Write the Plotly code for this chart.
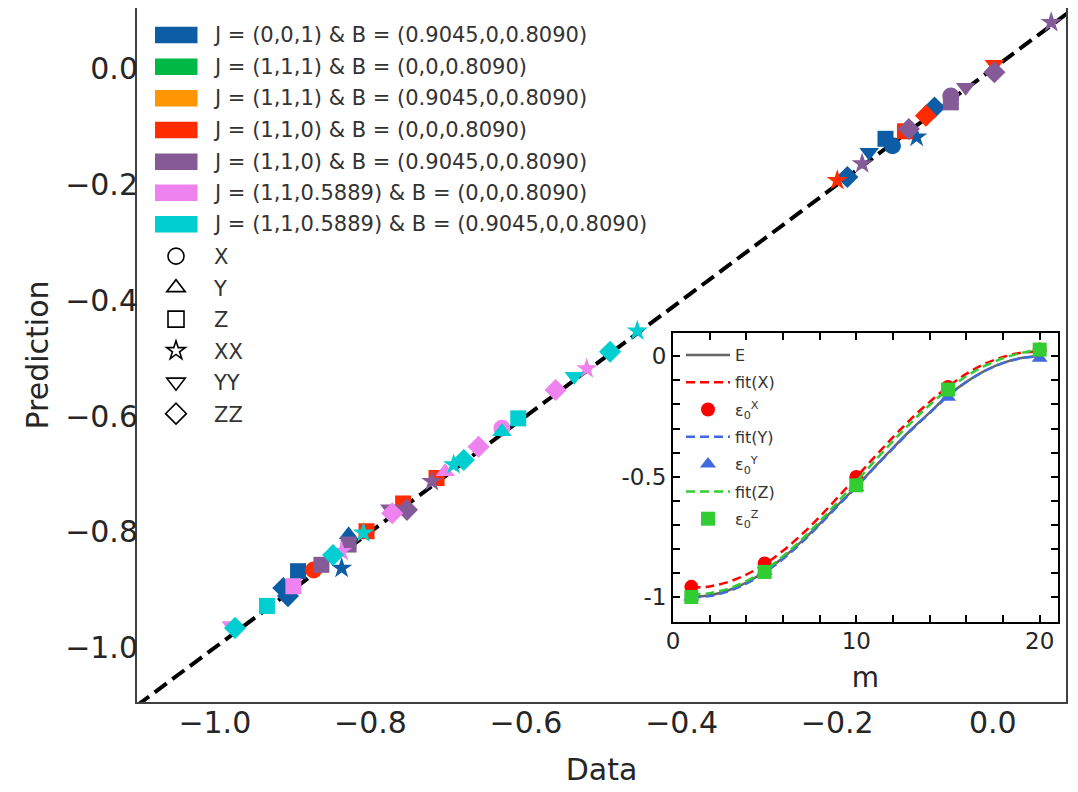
import plotly.graph_objects as go

# ---------------- main panel data ----------------
group_names = [
    "J = (0,0,1) & B = (0.9045,0,0.8090)",
    "J = (1,1,1) & B = (0,0,0.8090)",
    "J = (1,1,1) & B = (0.9045,0,0.8090)",
    "J = (1,1,0) & B = (0,0,0.8090)",
    "J = (1,1,0) & B = (0.9045,0,0.8090)",
    "J = (1,1,0.5889) & B = (0,0,0.8090)",
    "J = (1,1,0.5889) & B = (0.9045,0,0.8090)",
]
group_colors = ["#0C5DA5", "#00B945", "#FF9500", "#FF2C00", "#845B97", "#EE82EE", "#00CED1"]

component_names = ["X", "Y", "Z", "XX", "YY", "ZZ"]
component_symbols = ["circle", "triangle-up", "square", "star", "triangle-down", "diamond"]

# group 0 : J=(0,0,1), B=(0.9045,0,0.8090)
g0_data = [-0.129, -0.828, -0.138, -0.893, -0.098, -0.837, -0.159, -0.075, -0.187, -0.912, -0.906]
g0_pred = [-0.133, -0.805, -0.121, -0.868, -0.118, -0.863, -0.144, -0.067, -0.187, -0.897, -0.911]
g0_comp = ["X", "Y", "Z", "Z", "XX", "XX", "YY", "ZZ", "ZZ", "ZZ", "ZZ"]
# group 1 : J=(1,1,1), B=(0,0,0.8090)  (hidden under other markers)
g1_data = []
g1_pred = []
g1_comp = []
# group 2 : J=(1,1,1), B=(0.9045,0,0.8090)  (hidden under other markers)
g2_data = []
g2_pred = []
g2_comp = []
# group 3 : J=(1,1,0), B=(0,0,0.8090)
g3_data = [0.002, -0.086, -0.113, -0.200, -0.715, -0.758, -0.805, -0.873]
g3_pred = [0.008, -0.081, -0.108, -0.193, -0.707, -0.751, -0.799, -0.866]
g3_comp = ["YY", "ZZ", "Z", "XX", "Z", "Z", "Z", "X"]
# group 4 : J=(1,1,0), B=(0.9045,0,0.8090)
g4_data = [0.075, 0.002, -0.035, -0.054, -0.054, -0.108, -0.168, -0.721, -0.753, -0.775, -0.828, -0.863]
g4_pred = [0.080, -0.006, -0.032, -0.047, -0.058, -0.104, -0.164, -0.713, -0.762, -0.760, -0.822, -0.857]
g4_comp = ["XX", "ZZ", "YY", "X", "Z", "ZZ", "XX", "XX", "ZZ", "YY", "Z", "Z"]
# group 5 : J=(1,1,0.5889), B=(0,0,0.8090)
g5_data = [-0.522, -0.562, -0.631, -0.661, -0.704, -0.772, -0.837, -0.899, -0.979]
g5_pred = [-0.518, -0.555, -0.621, -0.653, -0.696, -0.768, -0.834, -0.894, -0.962]
g5_comp = ["XX", "ZZ", "X", "ZZ", "Y", "ZZ", "XX", "Z", "YY"]
# group 6 : J=(1,1,0.5889), B=(0.9045,0,0.8090)
g6_data = [-0.457, -0.492, -0.538, -0.610, -0.631, -0.680, -0.693, -0.809, -0.848, -0.933, -0.974]
g6_pred = [-0.453, -0.489, -0.531, -0.604, -0.627, -0.676, -0.684, -0.802, -0.840, -0.928, -0.966]
g6_comp = ["XX", "ZZ", "YY", "Z", "Y", "ZZ", "XX", "XX", "ZZ", "Z", "ZZ"]

diag = [-1.1, 0.1]
main_ticks = [-1.0, -0.8, -0.6, -0.4, -0.2, 0.0]

# ---------------- inset data ----------------
m_line = [1, 2, 3, 4, 5, 6, 7, 8, 9, 10, 11, 12, 13, 14, 15, 16, 17, 18, 19, 20]
E_vals = [-1.000, -0.993, -0.973, -0.940, -0.894, -0.837, -0.770, -0.696, -0.617, -0.541,
          -0.459, -0.380, -0.304, -0.234, -0.163, -0.106, -0.060, -0.027, -0.007, 0.000]
fitX_vals = [-0.962, -0.956, -0.938, -0.907, -0.864, -0.808, -0.742, -0.667, -0.585, -0.502,
             -0.418, -0.336, -0.259, -0.189, -0.127, -0.073, -0.031, -0.003, 0.015, 0.020]
fitY_vals = [-1.002, -0.996, -0.977, -0.945, -0.899, -0.842, -0.775, -0.700, -0.621, -0.544,
             -0.462, -0.383, -0.306, -0.236, -0.165, -0.107, -0.061, -0.028, -0.008, 0.000]
fitZ_vals = [-0.990, -0.984, -0.966, -0.934, -0.889, -0.831, -0.763, -0.686, -0.604, -0.520,
             -0.435, -0.352, -0.274, -0.202, -0.138, -0.083, -0.040, -0.008, 0.014, 0.028]
m_pts = [1, 5, 10, 15, 20]
epsX = [-0.958, -0.861, -0.501, -0.127, 0.028]
epsY = [-1.000, -0.893, -0.545, -0.170, -0.008]
epsZ = [-1.000, -0.896, -0.536, -0.138, 0.028]
inset_xticks = [0, 2, 4, 6, 8, 10, 12, 14, 16, 18, 20]
inset_xlabels = ["0", "", "", "", "", "10", "", "", "", "", "20"]
inset_yticks = [-1.0, -0.9, -0.8, -0.7, -0.6, -0.5, -0.4, -0.3, -0.2, -0.1, 0.0]
inset_ylabels = ["-1", "", "", "", "", "-0.5", "", "", "", "", "0"]

FONT = "DejaVu Sans"
TXT = "#262626"

sym_of = dict(zip(component_names, component_symbols))
size_of = {"X": 17, "Y": 17, "Z": 16, "XX": 16, "YY": 17, "ZZ": 17}

fig = go.Figure()

fig.add_trace(go.Scatter(x=diag, y=diag, mode="lines",
                         line=dict(color="black", width=4, dash="15px,7px"),
                         showlegend=False, hoverinfo="skip"))

all_groups = [
    (g0_data, g0_pred, g0_comp), (g1_data, g1_pred, g1_comp), (g2_data, g2_pred, g2_comp),
    (g3_data, g3_pred, g3_comp), (g4_data, g4_pred, g4_comp), (g5_data, g5_pred, g5_comp),
    (g6_data, g6_pred, g6_comp),
]
for (gx, gy, gc), col, name in zip(all_groups, group_colors, group_names):
    fig.add_trace(go.Scatter(
        x=gx, y=gy, mode="markers", name=name, showlegend=False,
        marker=dict(color=col, symbol=[sym_of[c] for c in gc], opacity=1,
                    size=[size_of[c] for c in gc], line=dict(width=0)),
    ))

# legend entries for the components (hollow black markers)
for cname, csym in zip(component_names, component_symbols):
    fig.add_trace(go.Scatter(
        x=[None], y=[None], mode="markers", name=cname, legendgroup=cname,
        legend="legend",
        marker=dict(symbol=csym + "-open", color="black", size=16 if csym != "star" else 14,
                    line=dict(width=1.6)),
    ))

# ---------------- inset ----------------
inset_series = [
    ("E", m_line, E_vals, "lines", dict(color="#666666", width=2.5), None),
    ("fit(X)", m_line, fitX_vals, "lines", dict(color="red", width=2.5, dash="9px,5px"), None),
    ("ε<sub>0</sub><sup>X</sup>", m_pts, epsX, "markers", None, dict(color="red", symbol="circle", size=14)),
    ("fit(Y)", m_line, fitY_vals, "lines", dict(color="royalblue", width=2.5, dash="9px,5px"), None),
    ("ε<sub>0</sub><sup>Y</sup>", m_pts, epsY, "markers", None, dict(color="royalblue", symbol="triangle-up", size=14)),
    ("fit(Z)", m_line, fitZ_vals, "lines", dict(color="limegreen", width=2.5, dash="9px,5px"), None),
    ("ε<sub>0</sub><sup>Z</sup>", m_pts, epsZ, "markers", None, dict(color="limegreen", symbol="square", size=14)),
]
for name, xs, ys, mode, ln, mk in inset_series:
    kw = dict(x=xs, y=ys, mode=mode, name=name, xaxis="x2", yaxis="y2",
              legend="legend2", legendgroup="in_" + name)
    if ln is not None:
        kw["line"] = dict(ln, shape="spline")
    if mk is not None:
        kw["marker"] = mk
    fig.add_trace(go.Scatter(**kw))

# ---------------- layout geometry (page pixels; page body has an 8px offset) ----------------
OFF = 8
FIG_W, FIG_H = 1078 - OFF, 792 - OFF
L, R, T, B = 137, 1066, 8, 702
W, H = R - L, B - T
def px_x(p):
    return (p - L) / W
def px_y(p):
    return (B - p) / H

patch_centers = [35, 66.7, 98.3, 130, 161.7, 192.7, 224.3]
shapes = []
annotations = []
for yc, col, name in zip(patch_centers, group_colors, group_names):
    shapes.append(dict(type="rect", xref="paper", yref="paper",
                       x0=px_x(155), x1=px_x(197.5), y0=px_y(yc + 8.3), y1=px_y(yc - 8.3),
                       fillcolor=col, line=dict(width=0)))
    annotations.append(dict(xref="paper", yref="paper", x=px_x(211), y=px_y(yc),
                            xanchor="left", yanchor="middle", showarrow=False, text=name,
                            font=dict(family=FONT, size=21, color="#333333")))

fig.update_layout(
    width=FIG_W, height=FIG_H,
    margin=dict(l=L - OFF, r=FIG_W - (R - OFF), t=T - OFF, b=FIG_H - (B - OFF), autoexpand=False),
    paper_bgcolor="white", plot_bgcolor="white",
    font=dict(family=FONT, color=TXT),
    shapes=shapes, annotations=annotations,
    xaxis=dict(domain=[0, 1], range=[-1.1, 0.094], tickvals=main_ticks, tickformat=".1f",
               showline=True, mirror=True, linecolor="#404040", linewidth=2,
               ticks="", showgrid=False, zeroline=False, automargin=False,
               ticklabelstandoff=-7,
               tickfont=dict(size=30, color=TXT),
               title=dict(text="Data", font=dict(size=30, color=TXT), standoff=20)),
    yaxis=dict(domain=[0, 1], range=[-1.094, 0.105], tickvals=main_ticks, tickformat=".1f",
               showline=True, mirror=True, linecolor="#404040", linewidth=2,
               ticks="", showgrid=False, zeroline=False, automargin=False,
               ticklabelstandoff=-9,
               tickfont=dict(size=30, color=TXT),
               title=dict(text="Prediction", font=dict(size=30, color=TXT), standoff=8)),
    xaxis2=dict(domain=[px_x(673), px_x(1058)], anchor="y2", range=[0, 21],
                tickvals=inset_xticks, ticktext=inset_xlabels,
                ticks="inside", ticklen=7, tickwidth=1.5, tickcolor="black",
                showline=True, mirror="allticks", linecolor="black", linewidth=2,
                showgrid=False, zeroline=False, automargin=False,
                ticklabelstandoff=-3,
                tickfont=dict(size=23, color=TXT),
                title=dict(text="m", font=dict(size=28, color=TXT), standoff=15)),
    yaxis2=dict(domain=[px_y(622), px_y(333)], anchor="x2", range=[-1.104, 0.097],
                tickvals=inset_yticks, ticktext=inset_ylabels,
                ticks="inside", ticklen=7, tickwidth=1.5, tickcolor="black",
                showline=True, mirror="allticks", linecolor="black", linewidth=2,
                showgrid=False, zeroline=False, automargin=False,
                tickfont=dict(size=23, color=TXT)),
    legend=dict(x=px_x(138), y=px_y(236), xanchor="left", yanchor="top",
                bgcolor="rgba(0,0,0,0)", font=dict(family=FONT, size=21, color="#333333"),
                traceorder="grouped", tracegroupgap=1.2, itemwidth=66),
    legend2=dict(x=px_x(681), y=px_y(338), xanchor="left", yanchor="top",
                 bgcolor="rgba(0,0,0,0)", font=dict(family=FONT, size=16, color="#333333"),
                 traceorder="grouped", tracegroupgap=3.5, itemwidth=44),
)

fig.write_html("out.html")
